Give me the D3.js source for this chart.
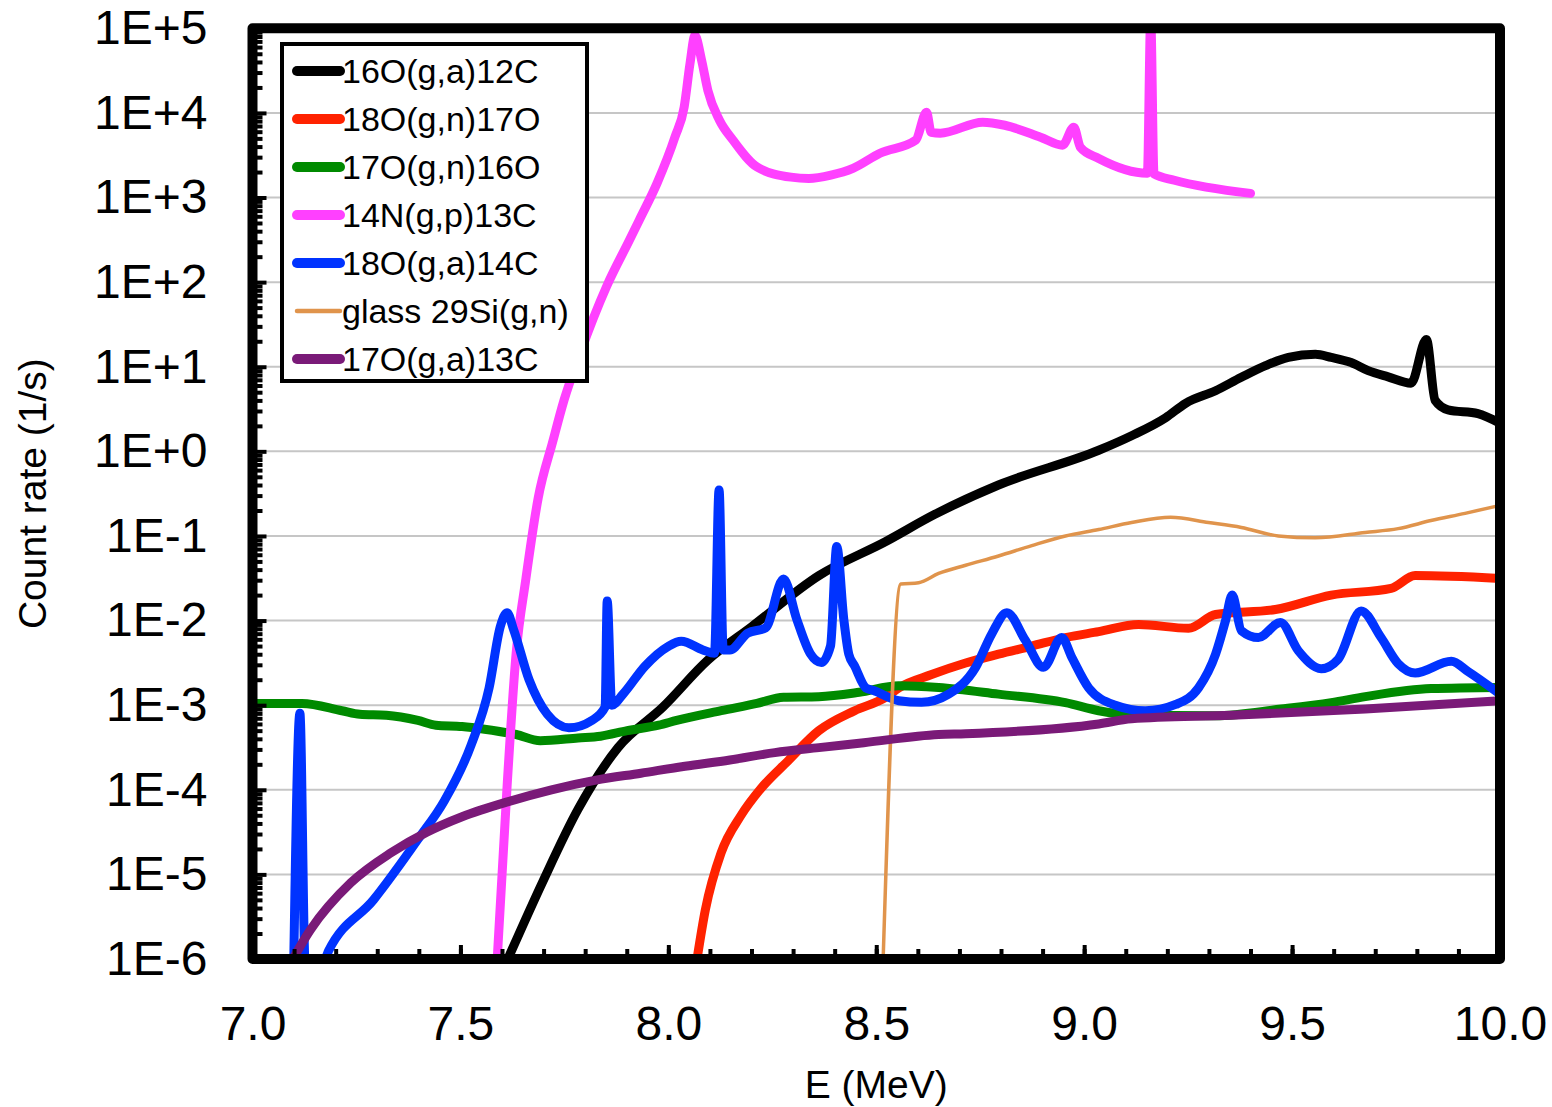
<!DOCTYPE html>
<html>
<head>
<meta charset="utf-8">
<script src="https://cdn.jsdelivr.net/npm/d3@7"></script>
<style>
  body { margin: 0; background: #fff; }
  svg { display: block; font-family: "Liberation Sans", Arial, sans-serif; }
</style>
</head>
<body>
<svg id="chart" width="1552" height="1107"></svg>
<script>
// ---- data (E in MeV, count rate in 1/s) ----
var seriesNames = ['16O(g,a)12C', '18O(g,n)17O', '17O(g,n)16O', '14N(g,p)13C',
                   '18O(g,a)14C', 'glass 29Si(g,n)', '17O(g,a)13C'];

var e16Oga = [7.61, 7.697, 7.783, 7.879, 7.987, 8.095, 8.201, 8.362, 8.523, 8.641, 8.794, 9.035,
              9.114, 9.196, 9.244, 9.316, 9.378, 9.436, 9.491, 9.556, 9.594, 9.642, 9.683, 9.731,
              9.786, 9.823, 9.844, 9.875, 9.947, 10.0];
var r16Oga = [9e-7, 8.0e-6, 5.9e-5, 3.15e-4, 9.5e-4, 3.4e-3, 8.5e-3, 0.034, 0.086, 0.18, 0.40, 1.03,
              1.53, 2.5, 3.7, 5.2, 7.5, 10.3, 12.9, 14.0, 12.9, 11.2, 9.0, 7.6,
              6.4, 21, 4.0, 3.1, 2.8, 2.15];

var e18Ogn = [8.066, 8.089, 8.127, 8.175, 8.223, 8.288, 8.362, 8.448, 8.523, 8.554, 8.633, 8.715,
              8.794, 8.874, 8.955, 9.035, 9.131, 9.251, 9.316, 9.46, 9.594, 9.738, 9.796, 10.0];
var r18Ogn = [8e-7, 3.8e-6, 1.8e-5, 5.0e-5, 1.04e-4, 2.2e-4, 5.0e-4, 8.6e-4, 1.24e-3, 1.6e-3, 2.3e-3, 3.15e-3,
              4.0e-3, 5.0e-3, 6.3e-3, 7.4e-3, 9.0e-3, 8.1e-3, 0.0118, 0.0135, 0.020, 0.024, 0.034, 0.0315];

var e17Ogn = [7.0, 7.119, 7.215, 7.258, 7.322, 7.398, 7.441, 7.504, 7.558, 7.634, 7.692, 7.783,
              7.837, 7.901, 7.977, 8.02, 8.127, 8.213, 8.277, 8.362, 8.459, 8.554, 8.65, 8.794,
              8.955, 9.035, 9.114, 9.316, 9.474, 9.594, 9.676, 9.834, 10.0];
var r17Ogn = [1.05e-3, 1.05e-3, 8.6e-4, 7.8e-4, 7.6e-4, 6.6e-4, 5.8e-4, 5.6e-4, 5.2e-4, 4.5e-4, 3.8e-4, 4.1e-4,
              4.3e-4, 5.0e-4, 5.8e-4, 6.6e-4, 8.6e-4, 1.05e-3, 1.24e-3, 1.26e-3, 1.42e-3, 1.7e-3, 1.62e-3, 1.35e-3,
              1.07e-3, 8.6e-4, 7.7e-4, 7.5e-4, 9.0e-4, 1.07e-3, 1.26e-3, 1.57e-3, 1.62e-3];

var e14Ngp = [7.588, 7.612, 7.634, 7.657, 7.687, 7.722, 7.749, 7.787, 7.852, 7.906, 7.93, 7.973,
              8.016, 8.038, 8.052, 8.064, 8.08, 8.095, 8.123, 8.155, 8.214, 8.295, 8.338, 8.391,
              8.444, 8.509, 8.595, 8.621, 8.632, 8.654, 8.756, 8.809, 8.895, 8.948, 8.975, 8.991,
              9.035, 9.152, 9.16, 9.168, 9.217, 9.40];
var r14Ngp = [9e-7, 1.05e-4, 4.1e-3, 0.03, 0.28, 1.3, 4.0, 14, 90, 310, 540, 1480,
              5200, 11700, 38000, 82000, 42000, 18500, 8200, 4800, 2280, 1740, 1680, 1840,
              2210, 3340, 4760, 10200, 5900, 5760, 7770, 7150, 5160, 4150, 6770, 3920,
              2900, 1940, 130000, 1900, 1600, 1120];

var e18Oga = [7.099, 7.114, 7.127, 7.165, 7.183, 7.291, 7.398, 7.462, 7.526, 7.569, 7.596, 7.612,
              7.628, 7.665, 7.709, 7.761, 7.816, 7.848, 7.853, 7.864, 7.891, 7.944, 7.998, 8.031,
              8.083, 8.111, 8.122, 8.132, 8.148, 8.191, 8.234, 8.277, 8.309, 8.341, 8.368, 8.39,
              8.405, 8.422, 8.434, 8.448, 8.475, 8.492, 8.554, 8.609, 8.674, 8.739, 8.778, 8.814,
              8.859, 8.902, 8.946, 8.97, 9.011, 9.075, 9.147, 9.22, 9.275, 9.316, 9.34, 9.356,
              9.378, 9.419, 9.472, 9.515, 9.57, 9.611, 9.666, 9.714, 9.755, 9.796, 9.883, 9.923, 10.0];
var r18Oga = [8e-7, 8e-4, 8e-7, 8e-7, 1.25e-6, 5.0e-6, 2.6e-5, 7.5e-5, 3.4e-4, 1.6e-3, 8.5e-3, 0.0124,
              7.8e-3, 2.0e-3, 7.8e-4, 5.4e-4, 6.6e-4, 9.5e-4, 0.017, 1.0e-3, 1.35e-3, 2.9e-3, 4.9e-3, 5.7e-3,
              4.5e-3, 4.1e-3, 0.35, 4.5e-3, 4.5e-3, 7.1e-3, 8.2e-3, 0.031, 0.0103, 4.1e-3, 3.2e-3, 5.0e-3,
              0.075, 0.0103, 4.0e-3, 2.9e-3, 1.6e-3, 1.5e-3, 1.13e-3, 1.08e-3, 1.35e-3, 2.8e-3, 7.0e-3, 0.0124,
              5.8e-3, 2.8e-3, 6.3e-3, 3.7e-3, 1.6e-3, 1.0e-3, 8.6e-4, 1.02e-3, 1.6e-3, 4.0e-3, 0.01, 0.02,
              7.6e-3, 6.3e-3, 9.5e-3, 4.4e-3, 2.7e-3, 3.5e-3, 0.013, 6.3e-3, 3.1e-3, 2.4e-3, 3.3e-3, 2.5e-3, 1.35e-3];

var eGlass = [8.516, 8.559, 8.602, 8.65, 8.715, 8.794, 8.874, 8.955, 9.035, 9.114, 9.208, 9.299,
              9.378, 9.467, 9.556, 9.676, 9.755, 9.834, 9.916, 10.0];
var rGlass = [8e-7, 0.027, 0.028, 0.036, 0.045, 0.058, 0.077, 0.10, 0.119, 0.144, 0.166, 0.144,
              0.126, 0.10, 0.095, 0.11, 0.122, 0.152, 0.185, 0.23];

var e17Oga = [7.086, 7.139, 7.237, 7.333, 7.419, 7.504, 7.613, 7.719, 7.826, 7.934, 8.04, 8.148,
              8.256, 8.362, 8.47, 8.65, 8.715, 9.035, 9.114, 9.354, 9.676, 10.0];
var r17Oga = [8e-7, 2.2e-6, 8.0e-6, 1.8e-5, 3.15e-5, 4.8e-5, 7.2e-5, 1.0e-4, 1.3e-4, 1.57e-4, 1.9e-4, 2.25e-4,
              2.75e-4, 3.15e-4, 3.6e-4, 4.5e-4, 4.6e-4, 6.0e-4, 6.9e-4, 7.6e-4, 9.0e-4, 1.13e-3];

var xTickValues = [7.0, 7.5, 8.0, 8.5, 9.0, 9.5, 10.0];
var yTickValues = [1e-6, 1e-5, 1e-4, 1e-3, 1e-2, 1e-1, 1e0, 1e1, 1e2, 1e3, 1e4, 1e5];
var yTickLabels = ['1E-6', '1E-5', '1E-4', '1E-3', '1E-2', '1E-1', '1E+0', '1E+1', '1E+2', '1E+3', '1E+4', '1E+5'];

// ---- styling ----
var seriesColors = ['#000000', '#ff2200', '#008a00', '#ff40ff', '#0033ff', '#e0944c', '#7a1a78'];
var seriesWidths = [9, 9, 9, 9, 9, 3.5, 9];

var LEFT = 252.5, RIGHT = 1500, TOP = 28.3, BOTTOM = 959;

var svg = d3.select('#chart');
svg.append('rect').attr('width', 1552).attr('height', 1107).attr('fill', '#fff');

var x = d3.scaleLinear().domain([7, 10]).range([LEFT, RIGHT]);
var y = d3.scaleLog().domain([1e-6, 1e5]).range([BOTTOM, TOP]);

// gridlines
svg.append('g')
    .selectAll('line')
    .data(yTickValues.slice(1, -1))
    .enter()
    .append('line')
    .attr('x1', LEFT).attr('x2', RIGHT)
    .attr('y1', (d) => y(d)).attr('y2', (d) => y(d))
    .style('stroke', '#c6c6c6')
    .style('stroke-width', 2);

// series
svg.append('clipPath').attr('id', 'plot-clip')
    .append('rect')
    .attr('x', LEFT).attr('y', TOP)
    .attr('width', RIGHT - LEFT).attr('height', BOTTOM - TOP);

var allSeries = [
    [e16Oga, r16Oga], [e18Ogn, r18Ogn], [e17Ogn, r17Ogn], [e14Ngp, r14Ngp],
    [e18Oga, r18Oga], [eGlass, rGlass], [e17Oga, r17Oga]
];

var line = d3.line()
    .x((d) => x(d[0]))
    .y((d) => y(d[1]))
    .curve(d3.curveMonotoneX);

var plot = svg.append('g').attr('clip-path', 'url(#plot-clip)');
allSeries.forEach((s, i) => {
    var pts = s[0].map((e, k) => [e, s[1][k]]);
    plot.append('path')
        .datum(pts)
        .attr('d', line)
        .style('fill', 'none')
        .style('stroke', seriesColors[i])
        .style('stroke-width', seriesWidths[i])
        .style('stroke-linejoin', 'round')
        .style('stroke-linecap', 'round');
});

// frame
svg.append('rect')
    .attr('x', LEFT).attr('y', TOP)
    .attr('width', RIGHT - LEFT).attr('height', BOTTOM - TOP)
    .style('fill', 'none')
    .style('stroke', '#000')
    .style('stroke-width', 10)
    .style('stroke-linejoin', 'round');

// x axis: minor + major ticks pointing inward
var xMinor = d3.range(71, 100).map((d) => d / 10);
svg.append('g')
    .attr('transform', `translate(0,${BOTTOM})`)
    .call(d3.axisBottom(x).tickValues(xMinor).tickSize(-10).tickFormat(''))
    .call((g) => g.select('.domain').remove())
    .call((g) => g.selectAll('line').style('stroke-width', 4));

svg.append('g')
    .attr('transform', `translate(0,${BOTTOM})`)
    .call(d3.axisBottom(x).tickValues(xTickValues).tickSize(-14).tickPadding(47).tickFormat(d3.format('.1f')))
    .call((g) => g.select('.domain').remove())
    .call((g) => g.selectAll('line').style('stroke-width', 4))
    .call((g) => g.selectAll('text')
        .style('font-family', '"Liberation Sans", Arial, sans-serif')
        .style('font-size', '48px')
        .style('fill', '#000'));

// y axis
var yMinor = [];
yTickValues.slice(0, -1).forEach((d) => {
    for (var m = 2; m <= 9; m++) yMinor.push(d * m);
});
svg.append('g')
    .attr('transform', `translate(${LEFT},0)`)
    .call(d3.axisLeft(y).tickValues(yMinor).tickSize(-10).tickFormat(''))
    .call((g) => g.select('.domain').remove())
    .call((g) => g.selectAll('line').style('stroke-width', 4));

svg.append('g')
    .attr('transform', `translate(${LEFT},0)`)
    .call(d3.axisLeft(y).tickValues(yTickValues).tickSize(-14).tickPadding(45)
        .tickFormat((d, i) => yTickLabels[i]))
    .call((g) => g.select('.domain').remove())
    .call((g) => g.selectAll('line').style('stroke-width', 4))
    .call((g) => g.selectAll('text')
        .style('font-family', '"Liberation Sans", Arial, sans-serif')
        .style('font-size', '48px')
        .style('fill', '#000'));

// axis titles
svg.append('text')
    .attr('x', (LEFT + RIGHT) / 2)
    .attr('y', 1098)
    .style('text-anchor', 'middle')
    .style('font-size', '39px')
    .text('E (MeV)');

svg.append('text')
    .attr('transform', `translate(46,${(TOP + BOTTOM) / 2})rotate(-90)`)
    .style('text-anchor', 'middle')
    .style('font-size', '39px')
    .text('Count rate (1/s)');

// legend
var legend = svg.append('g');
legend.append('rect')
    .attr('x', 282).attr('y', 44)
    .attr('width', 305).attr('height', 337)
    .style('fill', '#fff')
    .style('stroke', '#000')
    .style('stroke-width', 4);

var rows = legend.selectAll('g.row')
    .data(seriesNames)
    .enter()
    .append('g')
    .attr('class', 'row')
    .attr('transform', (d, i) => `translate(0,${71 + i * 48})`);

rows.append('line')
    .attr('x1', 297).attr('x2', 340)
    .attr('y1', 0).attr('y2', 0)
    .style('stroke', (d, i) => seriesColors[i])
    .style('stroke-width', (d, i) => seriesWidths[i] + 1)
    .style('stroke-linecap', 'round');

rows.append('text')
    .attr('x', 342)
    .attr('y', 12)
    .style('font-size', '34px')
    .text((d) => d);
</script>
</body>
</html>
